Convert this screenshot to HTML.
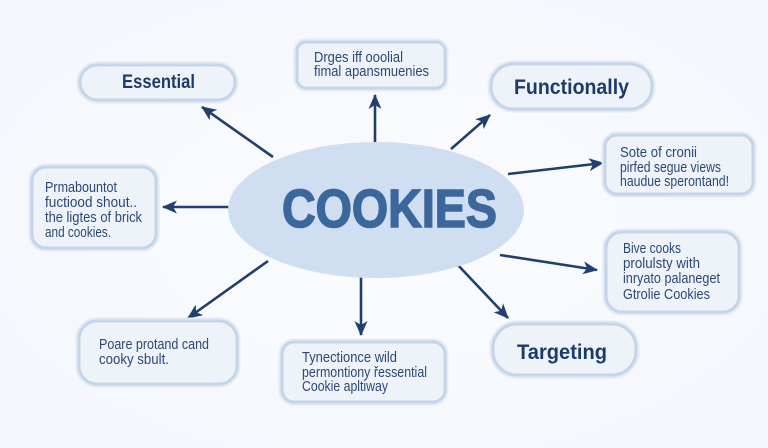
<!DOCTYPE html>
<html>
<head>
<meta charset="utf-8">
<style>
  html,body{margin:0;padding:0;background:#f7f9fc;}
  svg{display:block;}
  .b{font-family:"Liberation Sans",sans-serif;font-size:14.5px;fill:#2a4877;}
  .h{font-family:"Liberation Sans",sans-serif;font-weight:bold;fill:#1d3b69;}
  .box{fill:#eef3fa;stroke:#c4d5ea;stroke-width:3;}
  .halo{fill:none;stroke:#e2eaf5;stroke-width:7;}
  .ar{stroke:#1f3f6e;stroke-width:2.6;fill:none;marker-end:url(#ah);}
</style>
</head>
<body>
<svg width="768" height="448" viewBox="0 0 768 448" xmlns="http://www.w3.org/2000/svg">
  <defs>
    <marker id="ah" markerUnits="userSpaceOnUse" markerWidth="15" markerHeight="13" refX="14" refY="6.5" orient="auto">
      <path d="M0,0 L15,6.5 L0,13 L4,6.5 Z" fill="#1f3f6e"/>
    </marker>
    <radialGradient id="bg" cx="50%" cy="50%" r="70%">
      <stop offset="0" stop-color="#fbfcfe"/>
      <stop offset="1" stop-color="#f3f6fb"/>
    </radialGradient>
  </defs>
  <rect width="768" height="448" fill="url(#bg)"/>

  <!-- arrows -->
  <line class="ar" x1="273" y1="157" x2="202" y2="107"/>
  <line class="ar" x1="375" y1="142" x2="375" y2="95"/>
  <line class="ar" x1="451" y1="149" x2="490" y2="115"/>
  <line class="ar" x1="508" y1="174" x2="603" y2="163"/>
  <line class="ar" x1="237" y1="207" x2="163" y2="207"/>
  <line class="ar" x1="500" y1="255" x2="597" y2="270"/>
  <line class="ar" x1="268" y1="261" x2="188" y2="318"/>
  <line class="ar" x1="361" y1="275" x2="361" y2="335"/>
  <line class="ar" x1="456" y1="263" x2="508" y2="318"/>

  <!-- center ellipse -->
  <ellipse cx="376" cy="210" rx="148" ry="68" fill="#cfdff1"/>
  <text x="282" y="227" class="h" style="fill:#3b679c;font-size:54px;stroke:#3b679c;stroke-width:1.6" textLength="215" lengthAdjust="spacingAndGlyphs">COOKIES</text>

  <!-- Essential -->
  <rect class="halo" x="80" y="65" width="155" height="35" rx="17.5"/>
  <rect class="box" x="80" y="65" width="155" height="35" rx="17.5"/>
  <text x="122" y="88" class="h" style="font-size:19px" textLength="73" lengthAdjust="spacingAndGlyphs">Essential</text>

  <!-- Top box -->
  <rect class="halo" x="297" y="42" width="148" height="46" rx="9"/>
  <rect class="box" x="297" y="42" width="148" height="46" rx="9"/>
  <text x="314" y="62" class="b" textLength="89" lengthAdjust="spacingAndGlyphs">Drges iff ooolial</text>
  <text x="314" y="76" class="b" textLength="115" lengthAdjust="spacingAndGlyphs">fimal apansmuenies</text>

  <!-- Functionally -->
  <rect class="halo" x="491" y="64" width="161" height="45" rx="22"/>
  <rect class="box" x="491" y="64" width="161" height="45" rx="22"/>
  <text x="514" y="94" class="h" style="font-size:21px" textLength="115" lengthAdjust="spacingAndGlyphs">Functionally</text>

  <!-- Right box 1 -->
  <rect class="halo" x="605" y="135" width="148" height="59" rx="12"/>
  <rect class="box" x="605" y="135" width="148" height="59" rx="12"/>
  <text x="620" y="157" class="b" textLength="77" lengthAdjust="spacingAndGlyphs">Sote of cronii</text>
  <text x="620" y="172" class="b" textLength="101" lengthAdjust="spacingAndGlyphs">pirfed segue views</text>
  <text x="620" y="186" class="b" textLength="109" lengthAdjust="spacingAndGlyphs">haudue sperontand!</text>

  <!-- Left box -->
  <rect class="halo" x="32" y="167" width="124" height="81" rx="14"/>
  <rect class="box" x="32" y="167" width="124" height="81" rx="14"/>
  <text x="45" y="192" class="b" textLength="72" lengthAdjust="spacingAndGlyphs">Prmabountot</text>
  <text x="45" y="207" class="b" textLength="92" lengthAdjust="spacingAndGlyphs">fuctiood shout..</text>
  <text x="45" y="222" class="b" textLength="97" lengthAdjust="spacingAndGlyphs">the ligtes of brick</text>
  <text x="45" y="237" class="b" textLength="66" lengthAdjust="spacingAndGlyphs">and cookies.</text>

  <!-- Right box 2 -->
  <rect class="halo" x="606" y="232" width="133" height="80" rx="16"/>
  <rect class="box" x="606" y="232" width="133" height="80" rx="16"/>
  <text x="623" y="253" class="b" textLength="58" lengthAdjust="spacingAndGlyphs">Bive cooks</text>
  <text x="623" y="268" class="b" textLength="77" lengthAdjust="spacingAndGlyphs">prolulsty with</text>
  <text x="623" y="283" class="b" textLength="97" lengthAdjust="spacingAndGlyphs">inryato palaneget</text>
  <text x="623" y="299" class="b" textLength="87" lengthAdjust="spacingAndGlyphs">Gtrolie Cookies</text>

  <!-- Bottom-left box -->
  <rect class="halo" x="79" y="321" width="158" height="63" rx="18"/>
  <rect class="box" x="79" y="321" width="158" height="63" rx="18"/>
  <text x="99" y="349" class="b" textLength="110" lengthAdjust="spacingAndGlyphs">Poare protand cand</text>
  <text x="99" y="364" class="b" textLength="70" lengthAdjust="spacingAndGlyphs">cooky sbult.</text>

  <!-- Bottom-middle box -->
  <rect class="halo" x="282" y="342" width="163" height="60" rx="12"/>
  <rect class="box" x="282" y="342" width="163" height="60" rx="12"/>
  <text x="302" y="362" class="b" textLength="95" lengthAdjust="spacingAndGlyphs">Tynectionce wild</text>
  <text x="302" y="377" class="b" textLength="125" lengthAdjust="spacingAndGlyphs">permontiony řessential</text>
  <text x="302" y="391" class="b" textLength="86" lengthAdjust="spacingAndGlyphs">Cookie apltiway</text>

  <!-- Targeting -->
  <rect class="halo" x="493" y="324" width="143" height="51" rx="24"/>
  <rect class="box" x="493" y="324" width="143" height="51" rx="24"/>
  <text x="517" y="359" class="h" style="font-size:21px" textLength="90" lengthAdjust="spacingAndGlyphs">Targeting</text>
</svg>
</body>
</html>
